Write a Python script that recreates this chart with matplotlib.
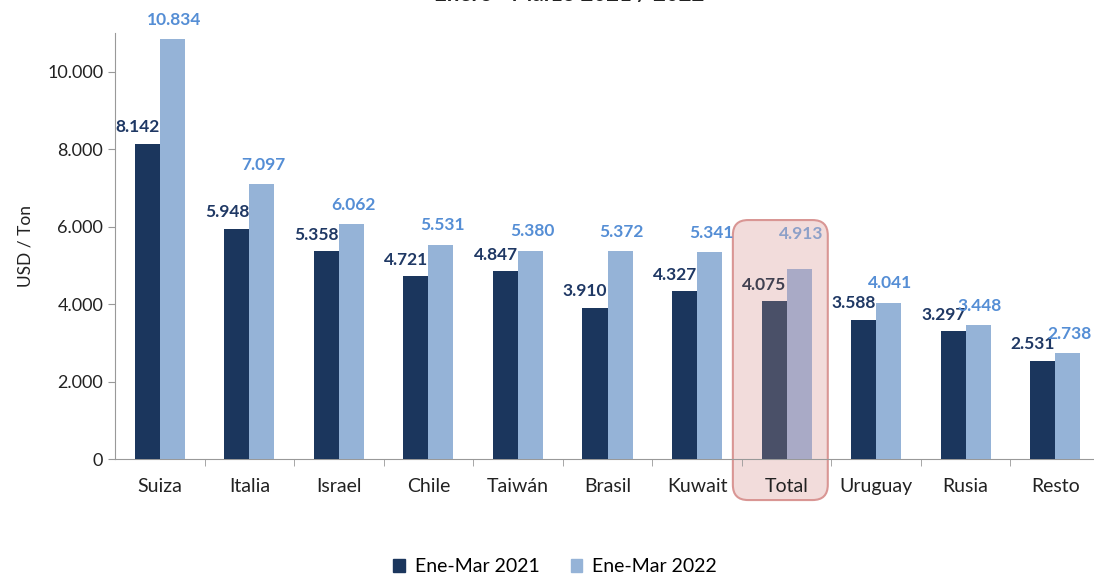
import matplotlib.pyplot as plt
from matplotlib.patches import FancyBboxPatch
from matplotlib.ticker import FuncFormatter

plt.rcParams["font.family"] = ["Lato", "DejaVu Sans"]

countries = ["Suiza", "Italia", "Israel", "Chile", "Taiwán", "Brasil", "Kuwait",
             "Total", "Uruguay", "Rusia", "Resto"]
ene_mar_2021 = [8142, 5948, 5358, 4721, 4847, 3910, 4327, 4075, 3588, 3297, 2531]
ene_mar_2022 = [10834, 7097, 6062, 5531, 5380, 5372, 5341, 4913, 4041, 3448, 2738]
series_names = ["Ene-Mar 2021", "Ene-Mar 2022"]
title = "Enero - Marzo 2021 / 2022"

DARK = "#1B365D"
LIGHT = "#95B3D7"
DARK_TXT = "#1F3864"
LIGHT_TXT = "#558ED5"
TOT_DARK = "#4A5068"
TOT_LIGHT = "#A9AAC6"


def fmt_es(v, pos=None):
    return f"{int(v):,}".replace(",", ".")


W, H = 1094, 578
fig = plt.figure(figsize=(W / 100, H / 100), dpi=100)
ax = fig.add_axes([115 / W, (H - 459) / H, 985 / W, (459 - 33) / H])

bw = 0.28
x = list(range(len(countries)))
tot = countries.index("Total")
c1 = [TOT_DARK if i == tot else DARK for i in x]
c2 = [TOT_LIGHT if i == tot else LIGHT for i in x]
ax.bar([i - bw / 2 for i in x], ene_mar_2021, width=bw, color=c1, zorder=3, label=series_names[0])
ax.bar([i + bw / 2 for i in x], ene_mar_2022, width=bw, color=c2, zorder=3, label=series_names[1])

for i in x:
    ax.annotate(fmt_es(ene_mar_2021[i]), (i - bw / 2 - 0.11, ene_mar_2021[i]),
                xytext=(0, 12), textcoords="offset points", ha="center", va="center",
                fontsize=12.5, fontweight="bold",
                color="#404050" if i == tot else DARK_TXT, zorder=5)
    ax.annotate(fmt_es(ene_mar_2022[i]), (i + bw / 2 + 0.02, ene_mar_2022[i]),
                xytext=(0, 25 if i == tot else 14), textcoords="offset points",
                ha="center", va="center", fontsize=12.5, fontweight="bold",
                color="#8DA0C8" if i == tot else LIGHT_TXT, zorder=5)

ax.set_xlim(-0.5, len(countries) - 0.5)
ax.set_ylim(0, 11000)
ax.set_yticks(range(0, 10001, 2000))
ax.yaxis.set_major_formatter(FuncFormatter(fmt_es))
ax.set_ylabel("USD / Ton", fontsize=12.5, color="#222222", labelpad=10)
ax.set_xticks(x)
ax.set_xticklabels(countries, fontsize=14, color="#222222")
ax.set_xticks([i + 0.5 for i in x[:-1]], minor=True)
ax.tick_params(axis="x", which="major", length=0, pad=14)
ax.tick_params(axis="x", which="minor", length=5, color="#999999")
ax.tick_params(axis="y", labelsize=13, labelcolor="#222222", length=5, color="#999999")
for s in ("top", "right"):
    ax.spines[s].set_visible(False)
ax.spines["left"].set_color("#999999")
ax.spines["bottom"].set_color("#999999")

# highlight box around Total
px_x = 985 / len(countries)
px_y = (459 - 33) / 11000
box = FancyBboxPatch((tot - 0.6, -1060), 1.06, 7230,
                     boxstyle="round,pad=0,rounding_size=0.17",
                     mutation_aspect=px_x / px_y,
                     facecolor="#F2DCDB", edgecolor="#D99694", linewidth=1.5,
                     clip_on=False, zorder=1)
ax.add_patch(box)

# title sits mostly above the visible area, as in the source image
fig.text(569 / W, 1 - 1 / H, title, ha="center", va="baseline",
         fontsize=16, fontweight="bold", color="#222222")

leg = fig.legend(loc="center", bbox_to_anchor=(555 / W, 11 / H), ncol=2, frameon=False,
                 fontsize=14, handlelength=0.6, handleheight=0.6, columnspacing=1.6,
                 handletextpad=0.5)
leg.legend_handles[0].set_color(DARK)
leg.legend_handles[1].set_color(LIGHT)

fig.savefig("out.png", dpi=100, facecolor="white")
